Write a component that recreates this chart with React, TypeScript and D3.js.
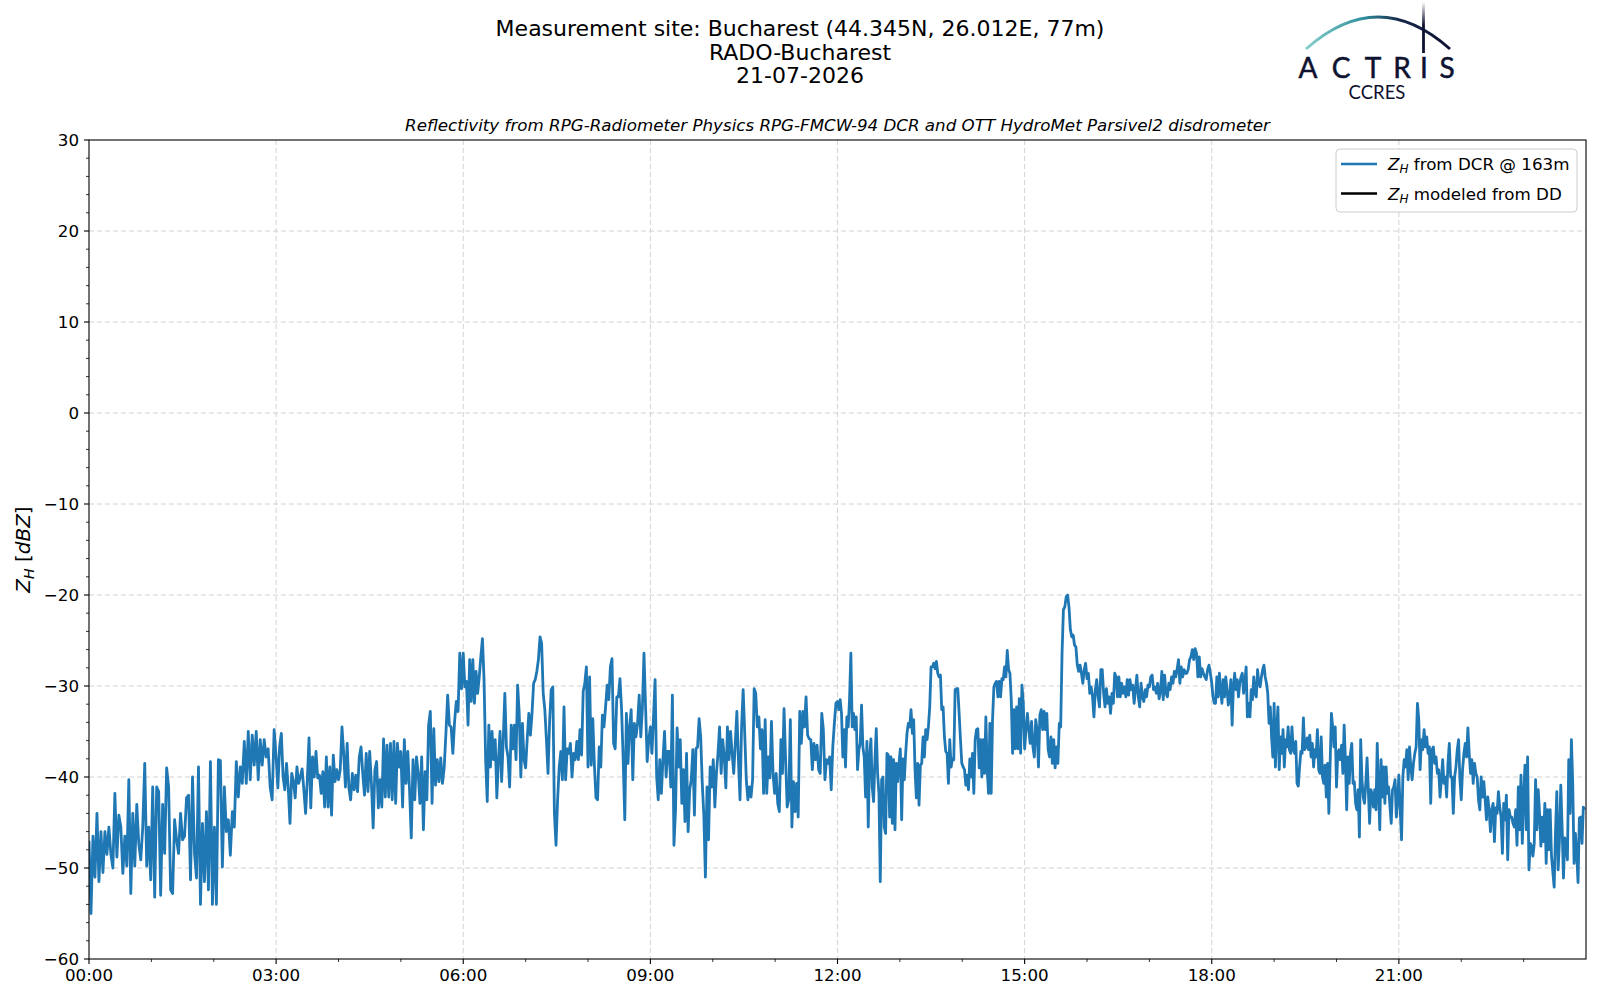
import React from 'react';
import * as d3 from 'd3';

// Z_H from DCR @ 163m, one array per 3-hour block
const zh00 = [-47, -55, -46.5, -51, -44, -51.5, -46, -50.5, -46, -48.5, -45.5, -48.5, -50, -41.8, -48.8, -44.2, -45.5, -50.6, -46.5, -49.8, -40.3, -52.8, -44, -49.8, -43, -47.3, -49.1, -45.5, -38.5, -49.8, -45.5, -51.3, -41.1, -53.2, -41.1, -41.6, -53, -43, -48.4, -39, -41.1, -52.4, -52.8, -44.7, -46.9, -48.4, -44, -46.9, -46.5, -42.3, -42, -51.3, -40, -48.4, -51.1, -38.9, -54, -45.1, -51.5, -43.8, -52.4, -38.3, -54, -45.5, -54, -38.1, -38.2, -49.9, -41.1, -46, -44.7, -48.6, -43.8, -45.5, -38.3, -42.2, -38.9, -40.7, -36.1, -40.7, -35, -40.3, -35.4, -38.7, -35, -40.3, -35.9, -38.7, -35.9, -37.8, -36.9, -41.1, -42.5, -34.8];
const zh03 = [-37.8, -41.2, -36.7, -35.2, -39.9, -41.4, -38.5, -41.2, -45.1, -39.6, -40.5, -42.3, -38.9, -40.7, -40, -39.1, -41.4, -44, -40.3, -35.7, -43.4, -37.8, -40, -37.2, -40.1, -39.8, -41.8, -39.4, -43.3, -37.8, -43.3, -38.9, -44.2, -37.6, -40.5, -39.2, -40.3, -39.2, -34.5, -37.4, -41.1, -36.3, -41.2, -42.5, -39.6, -41.4, -39.8, -41.6, -37.8, -36.7, -39.6, -42, -37.4, -41.6, -37.2, -40.7, -45.6, -39.2, -38.3, -43.4, -40.3, -43.3, -35.8, -42.2, -36.5, -42.2, -36.3, -42.5, -36.1, -42.9, -36.3, -38.9, -37.2, -43.3, -35.9, -40.7, -37.2, -41.4, -46.7, -38.1, -42.5, -37.8, -39.6, -42.9, -37.8, -45.8, -39.4, -42.5, -34.3, -32.8, -42.9, -34.7, -40.9, -38.1, -40.5, -37.9, -40.7, -39, -35.2, -31, -34.3, -34.5, -37.4, -33.9, -31.7, -32.8, -26.4, -30.3];
const zh06 = [-26.4, -30.1, -29.5, -34.3, -27.1, -31.7, -27.1, -31.9, -28.4, -30.8, -29, -26.8, -24.8, -29.3, -38.1, -42.7, -34.3, -38.9, -35, -38.1, -35.9, -42.3, -38.1, -35, -40.5, -35.9, -30.8, -36.7, -37.8, -41.1, -34.3, -36.9, -34.3, -38.1, -29.9, -33, -40, -34.1, -38.1, -39, -35.8, -33, -35.4, -33, -29.7, -29.3, -28.4, -27.1, -24.6, -25.3, -30.8, -32.6, -35.9, -39.6, -33.9, -30.4, -30.1, -44, -47.5, -42.5, -38.9, -37.2, -40.3, -32.3, -40.3, -36.9, -37.4, -36.3, -40, -37.4, -38.1, -36.1, -38.1, -34.8, -37.6, -30.6, -29.7, -27.9, -38.9, -29, -38.7, -33.6, -38.7, -42.3, -42.5, -36.7, -38.9, -33.2, -34.5, -32.3, -29.9, -31.5, -27.9, -27, -36.3, -36.9, -31.2, -31.2, -29.2, -32.6, -38.1, -44.7, -33, -38.5, -34.5, -32.6, -40.3, -34.1, -35.6, -34.1, -31, -35.6, -32.5, -26.4, -32.3, -38.3, -35.9];
const zh09 = [-34.5, -37.4, -33.4, -29.3, -40, -42.5, -38.1, -41.8, -38.1, -35, -40, -37.2, -37.2, -41.1, -31, -47.5, -43.6, -34.6, -38.9, -35.9, -42.9, -39.2, -44.9, -37.4, -46, -41.4, -40.3, -37, -44.2, -36.9, -36.7, -33.6, -35.6, -40.7, -44.2, -51, -41.1, -46.9, -38.9, -41.1, -38.1, -43.3, -39.6, -37.4, -34.5, -39.6, -35.9, -37.8, -41.2, -34.5, -38.1, -35, -37.4, -39.6, -36.3, -32.8, -38.1, -42.5, -34.5, -30.4, -35.2, -40.3, -42.5, -41.1, -42.2, -40.3, -30.3, -30.8, -34.5, -33.4, -36.9, -34.8, -41.8, -33.7, -41.8, -37.8, -40.1, -33.9, -39.6, -41.8, -39.6, -42.9, -43.8, -35.9, -39.6, -32.5, -38.1, -43.3, -42.5, -33.7, -45.5, -40.5, -43.8, -40.7, -44.4, -32.8, -36.3, -32.8, -34.5, -31.2, -35.4, -35.8, -35.9, -39.2, -36.3, -38.1, -36.5, -39.2, -39.6, -33, -34.8, -40.3, -38.1, -38.5, -37.8, -41.4, -36.7, -34.1, -31.9];
const zh12 = [-31.7, -32.6, -31.5, -33, -37.8, -34.8, -38.9, -33.4, -34.5, -31.5, -26.4, -34.5, -33, -34.8, -33.4, -39.2, -37, -36.3, -32.1, -36.7, -37.8, -42.2, -36.1, -45.5, -37.8, -35.8, -41.1, -42.7, -38.1, -34.7, -39.6, -41.8, -51.5, -40.3, -40, -45.5, -46.2, -37.4, -37.6, -44.4, -37.8, -45.1, -38.1, -45.8, -38.5, -40.5, -38.5, -36.9, -44.7, -38, -40.3, -37.4, -35.2, -34.1, -34.5, -32.6, -35.2, -33.7, -39.2, -42.3, -38.5, -43.1, -38.7, -38.5, -35.6, -37.8, -34.8, -35.9, -34.5, -32.3, -27.9, -27.9, -27.5, -28.1, -27.3, -28.6, -29, -28.8, -32.6, -32.3, -35.6, -37.2, -37.4, -40.7, -35.9, -38.9, -38, -38.1, -30.4, -30.3, -30.3, -33, -35.9, -38.5, -38.9, -39.2, -40.9, -39.8, -41.4, -38, -40, -37.4, -41.8, -35.9, -34.8, -34.7, -39, -35.9, -40, -35.9, -39.6, -33.4, -39.2, -41.8, -34.1, -41.8, -33.7, -30.1, -29.7, -29.5, -31.2, -29.5, -31.2, -29.2, -29.3, -27.9, -29, -26.1, -28.2, -28.6, -31.5, -37.4, -32.6, -36.9, -32.3, -36.9, -31.4, -37.4, -29.9, -31.9];
const zh15 = [-36.9, -34.8, -33, -34.8, -36.3, -33.9, -36.7, -37.8, -33.7, -34.8, -38.9, -33.2, -32.6, -34.8, -32.8, -34.8, -33, -37, -37.8, -35.6, -38.5, -35.9, -39, -36.7, -38.5, -34.1, -34.5, -26.4, -21.6, -21.3, -20.2, -20, -21.3, -23.8, -24.6, -24.4, -25.5, -25.7, -27.7, -28.4, -27.7, -28.6, -29.7, -28.2, -27.5, -29.2, -28.6, -30.8, -30.1, -31.2, -33.4, -30.4, -29.3, -31.2, -32.3, -28.2, -28.2, -30.8, -32.3, -30.3, -31.9, -31.2, -33, -30.8, -31.9, -28.6, -29, -31.2, -29, -31.2, -29.7, -30.8, -30.1, -31.2, -29.3, -31, -29.3, -30.4, -29.9, -31.9, -30.3, -28.8, -31.2, -32.3, -29.7, -31.2, -31.7, -30.4, -31.2, -29.9, -30.1, -29, -28.8, -30.4, -30.1, -30.8, -29.7, -31.4, -30.6, -28.4, -31.5, -28.8, -30.8, -31.2, -29.7, -30.4, -29, -29.7, -28.4, -29, -28.2, -27.1, -29.7, -27.9, -29, -28.2, -28.6, -28.6, -28.2, -27.1, -26.8, -26, -27.1, -25.9, -26.4, -29, -26.8, -29, -28.1, -28.6, -29, -29.3, -28.2, -27.7, -28.6];
const zh18 = [-29.7, -31.2, -31.9, -31.9, -29, -31.2, -28.6, -30.4, -31.9, -29.3, -31.2, -29, -30.4, -32.1, -31.2, -29.3, -34.3, -30.1, -28.6, -30.4, -29.3, -31.2, -29.7, -29, -28.6, -30.8, -29.7, -27.9, -33.4, -31.9, -33.4, -30.4, -31.5, -29, -30.8, -31.2, -28.2, -29.7, -30.1, -29, -28.2, -27.7, -29, -29.7, -30.8, -34.1, -32.3, -35.6, -37.8, -31.9, -38.9, -34.8, -32.3, -39.2, -35.6, -37.4, -34.8, -38.9, -35.9, -36.7, -34.5, -37, -37.4, -34.5, -37, -37.4, -36.1, -40.7, -41, -38.9, -37.2, -37.4, -33.5, -37, -36.7, -35.7, -37, -35.4, -37.8, -36.3, -38.9, -37, -37.8, -34.8, -39.2, -39.6, -35.6, -40, -40.7, -38.7, -42.2, -38.5, -44, -38.5, -33, -34.5, -36.7, -34.5, -41.1, -37.4, -37, -38.1, -36.5, -39.6, -34.3, -38.1, -43.6, -37.8, -40.7, -37.4, -36.3, -40.7, -40.5, -42.9, -43.6, -41.4, -46.6, -35.9, -40.3, -42.2, -42.9, -40.7, -37.9, -41.4, -45.1, -41.4, -41.8, -43.3, -41.4, -43.6, -36.3, -41.4, -45.8, -38.1, -42.2, -38.9, -42.9, -38.9, -41.8, -41.1, -43.3, -45.1, -41.4, -41.1, -40.3, -44.4, -42.5];
const zh21 = [-39.8, -43.6, -46.9, -40, -38.1, -38.9, -37, -40.3, -36.7, -38.9, -40.3, -38.5, -37.4, -36.7, -31.9, -33.7, -39.2, -35.9, -37, -34.8, -36.7, -35.6, -37.4, -36.7, -42.9, -37, -36.7, -38.5, -37.8, -39.6, -39.2, -42.2, -40.3, -38.1, -40.7, -40, -42.2, -38.5, -36.3, -40, -40, -44, -40, -38.9, -37, -35.9, -40.3, -42.5, -39.2, -37.4, -36.3, -37.8, -34.6, -37.4, -39.6, -38.1, -40.7, -38.5, -39.6, -40, -42.5, -43.6, -40, -42.2, -40.5, -42.5, -44.7, -42.2, -43.6, -46, -43.6, -42.9, -47.1, -43.4, -44, -41.6, -43.3, -44.4, -48.4, -42.9, -44.7, -42, -49.1, -43.6, -44.4, -44.4, -45.1, -45.5, -43.6, -47.5, -41.1, -45.8, -39.8, -47.3, -42.2, -38.7, -45.8, -37.8, -50.2, -47.3, -47.6, -48.7, -47.3, -40.3, -45.8, -41.4, -44, -47.6, -44.4, -47.1, -42.9, -49.5, -43.6, -48, -43.6, -48.7, -50.4, -52.1, -46.2, -41.6, -50.2, -46.9, -40.9, -45.5, -51.1, -46.7, -47.7, -49.1, -38.1, -44, -35.9, -40.7, -49.5, -46.2, -48.4, -51.6, -44.5, -44.4, -47.3, -43.3, -43.6];

const blockStarts = [0, 3, 6, 9, 12, 15, 18, 21];
const blocks = [zh00, zh03, zh06, zh09, zh12, zh15, zh18, zh21];

const xTicks = [0, 3, 6, 9, 12, 15, 18, 21];
const xTickLabels = ['00:00', '03:00', '06:00', '09:00', '12:00', '15:00', '18:00', '21:00'];
const yTicks = [-60, -50, -40, -30, -20, -10, 0, 10, 20, 30];

const titleLines = ['Measurement site: Bucharest (44.345N, 26.012E, 77m)', 'RADO-Bucharest', '21-07-2026'];
const subtitle = 'Reflectivity from RPG-Radiometer Physics RPG-FMCW-94 DCR and OTT HydroMet Parsivel2 disdrometer';
const legendItems = [
  { label: ' from DCR @ 163m', color: '#1f77b4' },
  { label: ' modeled from DD', color: '#000000' },
];

const W = 1600;
const H = 1000;
const plot = { left: 89, right: 1586, top: 140, bottom: 959 };
const FONT = '"DejaVu Sans", sans-serif';
const TICK_FS = 16.7;

type Pt = { t: number; v: number };

export default function App() {
  const x = d3.scaleLinear().domain([0, 24]).range([plot.left, plot.right]);
  const y = d3.scaleLinear().domain([-60, 30]).range([plot.bottom, plot.top]);

  const series: Pt[] = blocks.flatMap((vals, b) =>
    vals.map((v, i) => ({ t: blockStarts[b] + (3 * i) / vals.length, v }))
  );

  const line = d3.line<Pt>().x(d => x(d.t)).y(d => y(d.v));

  const xMinor = d3.range(0, 24).filter(h => h % 3 !== 0);
  const yMinor = d3.range(-60, 31, 2).filter(v => v % 10 !== 0);
  const fmtY = (v: number) => (v < 0 ? '\u2212' + Math.abs(v) : String(v));

  const legendX = 1336;
  const legendY = 149;

  return (
    <svg width={W} height={H} style={{ position: 'absolute', left: 0, top: 0, background: '#fff' }} fontFamily={FONT}>
      <defs>
        <clipPath id="plotclip">
          <rect x={plot.left} y={plot.top} width={plot.right - plot.left} height={plot.bottom - plot.top} />
        </clipPath>
        <linearGradient id="arcgrad" x1="1306" y1="0" x2="1450" y2="0" gradientUnits="userSpaceOnUse">
          <stop offset="0" stopColor="#86d0cc" />
          <stop offset="0.4" stopColor="#2f8e9c" />
          <stop offset="0.65" stopColor="#16284a" />
          <stop offset="1" stopColor="#0e1230" />
        </linearGradient>
        <linearGradient id="stemgrad" x1="0" y1="2" x2="0" y2="53" gradientUnits="userSpaceOnUse">
          <stop offset="0" stopColor="#0e1230" stopOpacity="0" />
          <stop offset="0.45" stopColor="#0e1230" stopOpacity="1" />
          <stop offset="1" stopColor="#0e1230" stopOpacity="1" />
        </linearGradient>
      </defs>

      {/* titles */}
      {titleLines.map((s, i) => (
        <text key={s} x={800} y={36 + i * 23.5} textAnchor="middle" fontSize={22} fill="#000">{s}</text>
      ))}
      <text x={(plot.left + plot.right) / 2} y={131} textAnchor="middle" fontSize={16.7} fontStyle="italic" fill="#000">{subtitle}</text>

      {/* logo */}
      <g>
        <path d="M1306,49 Q1378,-15 1450,49" fill="none" stroke="url(#arcgrad)" strokeWidth={3} />
        <line x1={1423.5} x2={1423.5} y1={2} y2={53} stroke="url(#stemgrad)" strokeWidth={2.8} />
        {[['A', 1308], ['C', 1341], ['T', 1373], ['R', 1402], ['I', 1424], ['S', 1447]].map(([c, cx]) => (
          <text key={c as string} x={cx as number} y={78} textAnchor="middle" fontSize={28} fontFamily="Lato, sans-serif" fill="#0e1230" stroke="#0e1230" strokeWidth={0.5}>{c}</text>
        ))}
        <text x={1377} y={99} textAnchor="middle" fontSize={18.5} fontFamily="Lato, sans-serif" fill="#0e1230">CCRES</text>
      </g>

      {/* grid */}
      <g stroke="#d2d2d2" strokeWidth={1} strokeDasharray="5,3">
        {xTicks.filter(t => t > 0).map(t => (
          <line key={'gx' + t} x1={x(t)} x2={x(t)} y1={plot.top} y2={plot.bottom} />
        ))}
        {yTicks.filter(v => v > -60 && v < 30).map(v => (
          <line key={'gy' + v} x1={plot.left} x2={plot.right} y1={y(v)} y2={y(v)} />
        ))}
      </g>

      {/* data */}
      <path d={line(series) || ''} fill="none" stroke="#1f77b4" strokeWidth={2.8} strokeLinejoin="round" clipPath="url(#plotclip)" />

      {/* frame */}
      <rect x={plot.left} y={plot.top} width={plot.right - plot.left} height={plot.bottom - plot.top} fill="none" stroke="#000" strokeWidth={1.1} />

      {/* y axis */}
      <g stroke="#000" strokeWidth={1.1}>
        {yTicks.map(v => <line key={'yt' + v} x1={plot.left - 5} x2={plot.left} y1={y(v)} y2={y(v)} />)}
        {yMinor.map(v => <line key={'ym' + v} x1={plot.left - 3} x2={plot.left} y1={y(v)} y2={y(v)} strokeWidth={0.8} />)}
      </g>
      {yTicks.map(v => (
        <text key={'yl' + v} x={plot.left - 10} y={y(v)} dy="0.36em" textAnchor="end" fontSize={TICK_FS} fill="#000">{fmtY(v)}</text>
      ))}

      {/* x axis */}
      <g stroke="#000" strokeWidth={1.1}>
        {xTicks.map(t => <line key={'xt' + t} x1={x(t)} x2={x(t)} y1={plot.bottom} y2={plot.bottom + 5} />)}
        {xMinor.map(t => <line key={'xm' + t} x1={x(t)} x2={x(t)} y1={plot.bottom} y2={plot.bottom + 3} strokeWidth={0.8} />)}
      </g>
      {xTicks.map((t, i) => (
        <text key={'xl' + t} x={x(t)} y={plot.bottom + 22} textAnchor="middle" fontSize={TICK_FS} fill="#000">{xTickLabels[i]}</text>
      ))}

      {/* y label */}
      <text transform={`translate(30,${(plot.top + plot.bottom) / 2}) rotate(-90)`} textAnchor="middle" fontSize={20} fill="#000">
        <tspan fontStyle="italic">Z</tspan>
        <tspan fontStyle="italic" fontSize={14} dy={4}>H</tspan>
        <tspan dy={-4}> [</tspan>
        <tspan fontStyle="italic">dBZ</tspan>
        <tspan>]</tspan>
      </text>

      {/* legend */}
      <rect x={legendX} y={legendY} width={241} height={63} rx={4} fill="#fff" fillOpacity={0.8} stroke="#cccccc" strokeWidth={1} />
      {legendItems.map((it, i) => {
        const cy = legendY + 15 + i * 29.5;
        return (
          <g key={it.label}>
            <line x1={legendX + 5} x2={legendX + 41} y1={cy} y2={cy} stroke={it.color} strokeWidth={2.6} />
            <text x={legendX + 52} y={cy} dy="0.36em" fontSize={16.7} fill="#000">
              <tspan fontStyle="italic">Z</tspan>
              <tspan fontStyle="italic" fontSize={12} dy={3}>H</tspan>
              <tspan dy={-3}>{it.label}</tspan>
            </text>
          </g>
        );
      })}
    </svg>
  );
}
